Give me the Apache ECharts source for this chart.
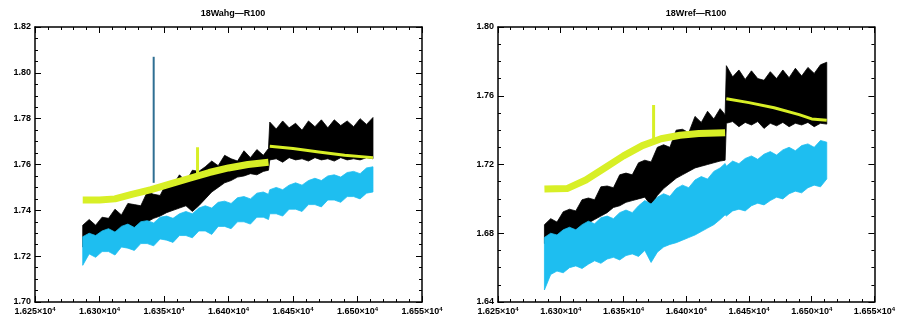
<!DOCTYPE html>
<html>
<head>
<meta charset="utf-8">
<script src="https://cdn.jsdelivr.net/npm/echarts@6/dist/echarts.min.js"></script>
<style>html,body{margin:0;padding:0;background:#fff}#c{width:898px;height:320px}</style>
</head>
<body>
<div id="c"></div>
<script>
// ---- data ----
const titles = ['18Wahg\u2014R100', '18Wref\u2014R100'];
const xTicks = [16250, 16300, 16350, 16400, 16450, 16500, 16550];
const leftYTicks = [1.70, 1.72, 1.74, 1.76, 1.78, 1.80, 1.82];
const rightYTicks = [1.64, 1.68, 1.72, 1.76, 1.80];

const wave = [16287,16292,16297,16302,16307,16312,16317,16322,16327,16332,16337,16342,16347,16352,16357,16362,16367,16372,16377,16382,16387,16392,16397,16402,16407,16412,16417,16422,16427,16431,
              16432,16437,16442,16447,16452,16457,16462,16467,16472,16477,16482,16487,16492,16497,16502,16507,16512];

// left panel
const L_blackHi = [1.7335,1.7360,1.7335,1.7370,1.7365,1.7405,1.7380,1.7430,1.7425,1.7420,1.7480,1.7470,1.7465,1.7520,1.7510,1.7555,1.7525,1.7575,1.7570,1.7590,1.7615,1.7595,1.7640,1.7625,1.7615,1.7660,1.7630,1.7665,1.7640,1.7670,
                   1.7785,1.7755,1.7790,1.7760,1.7780,1.7750,1.7790,1.7765,1.7795,1.7760,1.7795,1.7770,1.7790,1.7765,1.7800,1.7775,1.7805];
const L_blackLo = [1.7240,1.7255,1.7260,1.7270,1.7280,1.7290,1.7300,1.7310,1.7320,1.7340,1.7350,1.7365,1.7375,1.7390,1.7400,1.7410,1.7420,1.7395,1.7420,1.7450,1.7480,1.7500,1.7520,1.7530,1.7545,1.7550,1.7560,1.7555,1.7570,1.7575,
                   1.7620,1.7625,1.7610,1.7630,1.7620,1.7625,1.7615,1.7630,1.7620,1.7625,1.7615,1.7630,1.7620,1.7625,1.7620,1.7630,1.7625];
const L_blueHi = [1.7285,1.7300,1.7290,1.7310,1.7320,1.7305,1.7330,1.7340,1.7325,1.7350,1.7355,1.7345,1.7370,1.7375,1.7365,1.7385,1.7395,1.7385,1.7410,1.7420,1.7410,1.7435,1.7440,1.7430,1.7455,1.7460,1.7450,1.7475,1.7480,1.7470,
                  1.7490,1.7500,1.7490,1.7510,1.7520,1.7510,1.7530,1.7540,1.7530,1.7550,1.7555,1.7545,1.7565,1.7570,1.7560,1.7585,1.7590];
const L_blueLo = [1.7160,1.7210,1.7195,1.7220,1.7220,1.7205,1.7240,1.7235,1.7225,1.7255,1.7255,1.7245,1.7275,1.7270,1.7260,1.7290,1.7290,1.7280,1.7310,1.7310,1.7295,1.7330,1.7330,1.7320,1.7350,1.7350,1.7340,1.7370,1.7370,1.7360,
                  1.7385,1.7385,1.7375,1.7405,1.7405,1.7395,1.7425,1.7425,1.7415,1.7445,1.7445,1.7435,1.7460,1.7460,1.7450,1.7475,1.7480];
const L_yellowAx = [16287,16300,16312,16325,16340,16355,16370,16385,16400,16415,16431];
const L_yellowAy = [1.7445,1.7445,1.7450,1.7470,1.7490,1.7515,1.7540,1.7565,1.7585,1.7600,1.7610];
const L_yellowBx = [16432,16450,16470,16490,16512];
const L_yellowBy = [1.7680,1.7670,1.7655,1.7640,1.7630];
const L_yspikeX = [16376,16376];
const L_yspikeY = [1.7555,1.7675];
const L_bspikeX = [16342,16342];
const L_bspikeY = [1.7520,1.8070];

// right panel
const R_blackHi = [1.6850,1.6885,1.6865,1.6925,1.6940,1.6930,1.6995,1.7005,1.6995,1.7070,1.7075,1.7065,1.7140,1.7150,1.7140,1.7210,1.7225,1.7215,1.7300,1.7315,1.7300,1.7400,1.7405,1.7385,1.7480,1.7445,1.7510,1.7465,1.7525,1.7490,
                   1.7775,1.7710,1.7750,1.7695,1.7745,1.7700,1.7690,1.7740,1.7700,1.7750,1.7705,1.7760,1.7715,1.7765,1.7730,1.7780,1.7795];
const R_blackLo = [1.6740,1.6760,1.6770,1.6790,1.6810,1.6820,1.6840,1.6860,1.6880,1.6900,1.6920,1.6950,1.6960,1.6980,1.6990,1.7000,1.7010,1.6960,1.7020,1.7060,1.7090,1.7120,1.7140,1.7160,1.7180,1.7190,1.7200,1.7210,1.7220,1.7225,
                   1.7440,1.7450,1.7420,1.7445,1.7430,1.7450,1.7410,1.7440,1.7425,1.7445,1.7420,1.7440,1.7430,1.7445,1.7420,1.7440,1.7435];
const R_blueHi = [1.6776,1.6800,1.6790,1.6820,1.6835,1.6820,1.6850,1.6870,1.6855,1.6890,1.6900,1.6885,1.6920,1.6935,1.6920,1.6960,1.6990,1.6970,1.7010,1.7030,1.7015,1.7060,1.7080,1.7065,1.7110,1.7130,1.7115,1.7160,1.7180,1.7206,
                  1.7190,1.7220,1.7205,1.7235,1.7250,1.7230,1.7260,1.7275,1.7255,1.7285,1.7300,1.7280,1.7310,1.7320,1.7300,1.7340,1.7330];
const R_blueLo = [1.6470,1.6560,1.6580,1.6570,1.6600,1.6610,1.6595,1.6620,1.6640,1.6625,1.6650,1.6660,1.6645,1.6670,1.6680,1.6665,1.6700,1.6630,1.6690,1.6720,1.6735,1.6745,1.6760,1.6775,1.6790,1.6810,1.6830,1.6850,1.6880,1.6907,
                  1.6900,1.6930,1.6940,1.6930,1.6960,1.6975,1.6965,1.6990,1.7010,1.7000,1.7030,1.7045,1.7035,1.7065,1.7080,1.7070,1.7116];
const R_yellowAx = [16287,16305,16320,16335,16350,16365,16380,16395,16410,16431];
const R_yellowAy = [1.7057,1.7060,1.7110,1.7180,1.7250,1.7310,1.7350,1.7370,1.7380,1.7385];
const R_yellowBx = [16432,16450,16470,16490,16500,16512];
const R_yellowBy = [1.7582,1.7560,1.7530,1.7490,1.7465,1.7457];
const R_yspikeX = [16374,16374];
const R_yspikeY = [1.7330,1.7546];

// ---- chart ----
const BLACK = '#000000', BLUE = '#1ebef0', YELLOW = '#d8ef26';
const zip = (xs, ys) => xs.map((x, i) => [x, ys[i]]);

function band(axisIdx, lo, hi, color, z) {
  return {
    type: 'custom', xAxisIndex: axisIdx, yAxisIndex: axisIdx, z: z, silent: true,
    data: wave.map((x, i) => [x, lo[i], hi[i]]),
    renderItem: function (params, api) {
      if (params.dataIndex !== 0) return null;
      const pts = [];
      for (let i = 0; i < wave.length; i++) pts.push(api.coord([wave[i], hi[i]]));
      for (let i = wave.length - 1; i >= 0; i--) pts.push(api.coord([wave[i], lo[i]]));
      return { type: 'polygon', shape: { points: pts }, style: { fill: color, stroke: color, lineWidth: 0.8 } };
    }
  };
}
function line(axisIdx, xs, ys, color, w, z) {
  return {
    type: 'line', xAxisIndex: axisIdx, yAxisIndex: axisIdx, z: z, silent: true,
    data: zip(xs, ys), showSymbol: false, symbol: 'none',
    lineStyle: { color: color, width: w, cap: 'butt', join: 'round' }
  };
}

const fontFam = '"Liberation Sans", Arial, sans-serif';
function xAxes(gi) {
  const base = {
    gridIndex: gi, type: 'value', min: xTicks[0], max: xTicks[xTicks.length - 1], interval: 50,
    splitLine: { show: false },
    axisLine: { show: true, onZero: false, lineStyle: { color: '#000', width: 1.5 } },
    axisTick: { show: true, inside: true, length: 6, lineStyle: { color: '#000', width: 1 } },
    minorTick: { show: true, splitNumber: 5, length: 3, lineStyle: { color: '#000', width: 1 } }
  };
  return [
    Object.assign({}, base, {
      position: 'bottom',
      axisLabel: {
        show: true, margin: 4, color: '#000', fontSize: 9, fontWeight: 'bold', fontFamily: fontFam,
        formatter: v => (v / 1e4).toFixed(3) + '\u00d710{s|4}',
        rich: { s: { fontSize: 6, fontWeight: 'bold', verticalAlign: 'top', padding: [0, 0, 5, 0] } }
      }
    }),
    Object.assign({}, base, { position: 'top', axisLabel: { show: false } })
  ];
}
function yAxes(gi, ticks, interval) {
  const base = {
    gridIndex: gi, type: 'value', min: ticks[0], max: ticks[ticks.length - 1], interval: interval,
    splitLine: { show: false },
    axisLine: { show: true, onZero: false, lineStyle: { color: '#000', width: 1.5 } },
    axisTick: { show: true, inside: true, length: 6, lineStyle: { color: '#000', width: 1 } },
    minorTick: { show: true, splitNumber: 4, length: 3, lineStyle: { color: '#000', width: 1 } }
  };
  return [
    Object.assign({}, base, {
      position: 'left',
      axisLabel: { show: true, margin: 4, color: '#000', fontSize: 9, fontWeight: 'bold', fontFamily: fontFam,
        formatter: v => v.toFixed(2) }
    }),
    Object.assign({}, base, { position: 'right', axisLabel: { show: false } })
  ];
}

const chart = echarts.init(document.getElementById('c'), null, { renderer: 'canvas' });
chart.setOption({
  animation: false,
  backgroundColor: '#fff',
  title: [
    { text: titles[0], left: 228, top: 4, textAlign: 'center', textStyle: { fontSize: 9, fontWeight: 'bold', color: '#000', fontFamily: fontFam } },
    { text: titles[1], left: 691, top: 4, textAlign: 'center', textStyle: { fontSize: 9, fontWeight: 'bold', color: '#000', fontFamily: fontFam } }
  ],
  grid: [
    { left: 35, right: 476, top: 27, bottom: 18 },
    { left: 498, right: 13, top: 27, bottom: 18 }
  ],
  xAxis: [].concat(xAxes(0), xAxes(1)),
  yAxis: [].concat(yAxes(0, leftYTicks, 0.02), yAxes(1, rightYTicks, 0.04)),
  series: [
    band(0, L_blackLo, L_blackHi, BLACK, 2),
    band(0, L_blueLo, L_blueHi, BLUE, 3),
    line(0, L_bspikeX, L_bspikeY, '#2f6f93', 2, 4),
    line(0, L_yellowAx, L_yellowAy, YELLOW, 7, 5),
    line(0, L_yellowBx, L_yellowBy, YELLOW, 3, 5),
    line(0, L_yspikeX, L_yspikeY, YELLOW, 3, 5),
    band(2, R_blackLo, R_blackHi, BLACK, 2),
    band(2, R_blueLo, R_blueHi, BLUE, 3),
    line(2, R_yellowAx, R_yellowAy, YELLOW, 7, 5),
    line(2, R_yellowBx, R_yellowBy, YELLOW, 3, 5),
    line(2, R_yspikeX, R_yspikeY, YELLOW, 3, 5)
  ]
});
</script>
</body>
</html>
